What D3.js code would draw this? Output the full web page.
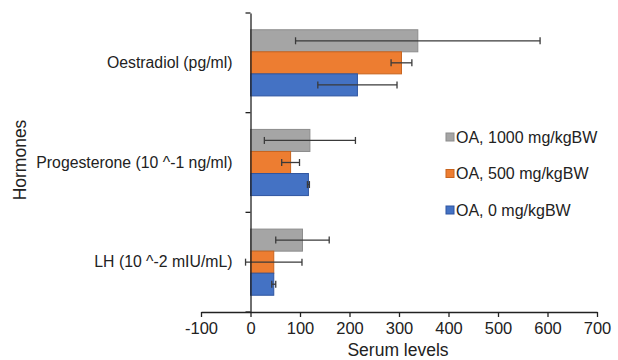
<!DOCTYPE html>
<html><head><meta charset="utf-8">
<script src="https://cdn.jsdelivr.net/npm/d3@7"></script>
<style>body{margin:0;background:#fff}svg{display:block;font-family:"Liberation Sans",Arial,sans-serif}</style>
</head><body><svg id="c" width="618" height="360"></svg>
<script>
const categories = ["Oestradiol (pg/ml)", "Progesterone (10 ^-1 ng/ml)", "LH (10 ^-2 mIU/mL)"];
const seriesNames = ["OA, 1000 mg/kgBW", "OA, 500 mg/kgBW", "OA, 0 mg/kgBW"];
const values1000 = [338, 120, 105];
const values500 = [305, 81, 47];
const values0 = [216, 117, 47];
const err1000 = [247, 92, 54];
const err500 = [21, 18, 57];
const err0 = [80, 2, 4];
const xTicks = [-100, 0, 100, 200, 300, 400, 500, 600, 700];
const colors = ["#A5A5A5", "#ED7D31", "#4472C4"];
const strokes = ["#8c8c8c", "#c8641e", "#2f55a0"];

const seriesVals = [values1000, values500, values0];
const seriesErr = [err1000, err500, err0];
const FONT = "'Liberation Sans',Arial,sans-serif";

const svg = d3.select("#c");
const x = d3.scaleLinear().domain([-100, 700]).range([201, 597]);
const y0 = d3.scaleBand().domain(categories).range([13, 312]).padding(0);
const y1 = d3.scaleBand().domain(seriesNames).range([0, y0.bandwidth()]).paddingInner(0).paddingOuter(0.76);

// bars
categories.forEach((c, ci) => {
  seriesNames.forEach((s, si) => {
    const v = seriesVals[si][ci];
    svg.append("rect")
      .attr("x", x(Math.min(0, v)))
      .attr("y", y0(c) + y1(s))
      .attr("width", Math.abs(x(v) - x(0)))
      .attr("height", y1.bandwidth())
      .attr("fill", colors[si])
      .attr("stroke", strokes[si])
      .attr("stroke-width", 1);
  });
});

// error bars
categories.forEach((c, ci) => {
  seriesNames.forEach((s, si) => {
    const v = seriesVals[si][ci], e = seriesErr[si][ci];
    const cy = y0(c) + y1(s) + y1.bandwidth() / 2;
    const g = svg.append("g").attr("stroke", "#3a3a3a").attr("stroke-width", 1.3);
    g.append("line").attr("x1", x(v - e)).attr("x2", x(v + e)).attr("y1", cy).attr("y2", cy);
    [v - e, v + e].forEach(p => g.append("line").attr("x1", x(p)).attr("x2", x(p)).attr("y1", cy - 3.5).attr("y2", cy + 3.5));
  });
});

// x axis
const xAxis = svg.append("g").attr("transform", "translate(0,312)")
  .call(d3.axisBottom(x).tickValues(xTicks).tickSize(5).tickSizeOuter(0).tickFormat(d => String(d)));
xAxis.select(".domain").attr("stroke", "#222").attr("stroke-width", 1.3);
xAxis.selectAll(".tick line").attr("stroke", "#222").attr("stroke-width", 1.3);
xAxis.selectAll("text").attr("font-size", 16.5).attr("fill", "#222").attr("y", 9).attr("dy", "0.8em")
  .style("font-family", FONT);

// y axis
const yAxis = svg.append("g").attr("transform", `translate(${x(0)},0)`)
  .call(d3.axisLeft(y0).tickSize(0).tickSizeOuter(0).tickPadding(18));
yAxis.select(".domain").attr("stroke", "#222").attr("stroke-width", 1.3);
yAxis.selectAll("text").attr("font-size", 15.8).attr("fill", "#222")
  .style("font-family", FONT);
const bounds = categories.map(c => y0(c)).concat([y0.range()[1]]);
bounds.forEach(b => svg.append("line").attr("x1", x(0) - 5).attr("x2", x(0)).attr("y1", b).attr("y2", b)
  .attr("stroke", "#222").attr("stroke-width", 1.3));

// titles
svg.append("text").attr("x", 398).attr("y", 356).attr("text-anchor", "middle")
  .attr("font-size", 17.5).attr("fill", "#222").text("Serum levels");
svg.append("text").attr("transform", "translate(26,160) rotate(-90)").attr("text-anchor", "middle")
  .attr("font-size", 17.5).attr("fill", "#222").text("Hormones");

// legend
seriesNames.forEach((s, i) => {
  const ly = 137 + i * 36.5;
  svg.append("rect").attr("x", 446).attr("y", ly - 4).attr("width", 8).attr("height", 8)
    .attr("fill", colors[i]).attr("stroke", strokes[i]).attr("stroke-width", 1);
  svg.append("text").attr("x", 456).attr("y", ly).attr("dy", "0.35em").attr("font-size", 16)
    .attr("fill", "#222").text(s);
});
</script></body></html>
